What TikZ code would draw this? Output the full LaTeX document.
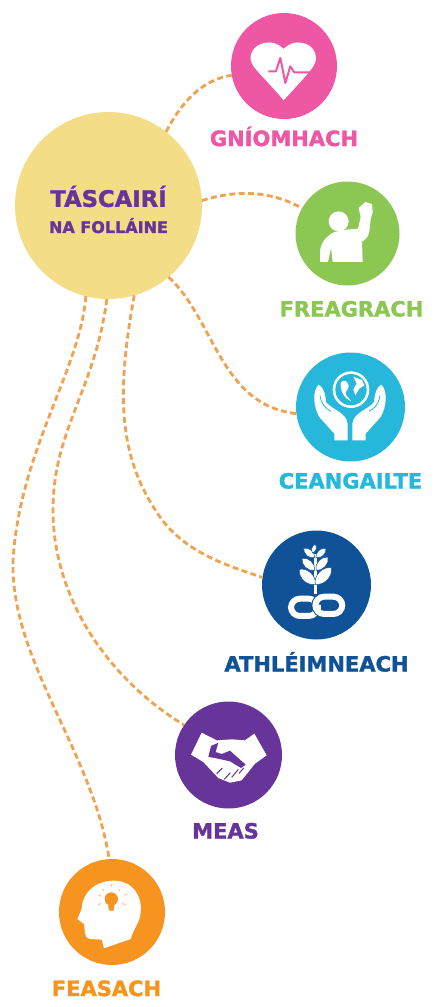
\documentclass[tikz,border=0pt]{standalone}
\usepackage{fontspec}
\setmainfont{DejaVu Sans}[BoldFeatures={FakeBold=1.6}]
\usetikzlibrary{positioning}
\definecolor{hubyellow}{HTML}{F3DD87}
\definecolor{linkorange}{HTML}{EFA24F}
\definecolor{gnpink}{HTML}{EE57A3}
\definecolor{frgreen}{HTML}{8CC753}
\definecolor{cecyan}{HTML}{27B7DB}
\definecolor{atnavy}{HTML}{0F5297}
\definecolor{mepurple}{HTML}{67359A}
\definecolor{feorange}{HTML}{F7941F}
\tikzset{iconzone/.style={shift={(#1)},x=.3333pt,y=-.3333pt}}
\tikzset{iconw/.style={fill=white,draw=none}}

\begin{document}
\begin{tikzpicture}[
  x=1pt, y=-1pt,
  disc/.style={circle, draw=none, inner sep=0pt, outer sep=0pt, minimum size=#1},
  hubc/.style={disc=187pt, fill=hubyellow, align=center, text=mepurple, font=\bfseries},
  lbl/.style={inner sep=0pt, outer sep=0pt, text height=16pt, text depth=0pt, font=\fontsize{21pt}{21pt}\selectfont\bfseries},
  linkc/.style={draw=linkorange, line width=2.8pt, dash pattern=on 6pt off 3.4pt},
]
  \useasboundingbox (0,0) rectangle (444,1007);

  \node[hubc] (hub) at (108.5,205.5) {\rule{0pt}{29pt}{\fontsize{22.7pt}{24pt}\selectfont TÁSCAIRÍ}\\[10pt]{\fontsize{16pt}{18pt}\selectfont NA FOLLÁINE}};
  \node[disc=106pt, fill=gnpink] (gn) at (284,66) {};
  \node[disc=104pt, fill=frgreen] (fr) at (347.5,233.5) {};
  \node[disc=109pt, fill=cecyan] (ce) at (350.5,407) {};
  \node[disc=109pt, fill=atnavy] (at) at (316.5,585) {};
  \node[disc=107pt, fill=mepurple] (me) at (228.5,755) {};
  \node[disc=106pt, fill=feorange] (fe) at (112,912) {};

  \node[lbl, text=gnpink, below=11pt of gn] (gnl) {GNÍOMHACH};
  \node[lbl, text=frgreen, below=15pt of fr, xshift=4pt] (frl) {FREAGRACH};
  \node[lbl, text=cecyan, below=11pt of ce] (cel) {CEANGAILTE};
  \node[lbl, text=atnavy, below=16pt of at] (atl) {ATHLÉIMNEACH};
  \node[lbl, text=mepurple, below=14pt of me, xshift=-3pt] (mel) {MEAS};
  \node[lbl, text=feorange, below=15pt of fe, xshift=-5.5pt] (fel) {FEASACH};

  % Dashed links
  \draw[linkc] (hub.52) .. controls (180,105) and (200,80) .. (gn.190);
  \draw[linkc] (hub.3) .. controls (235,190) and (270,190) .. (fr.151);
  \draw[linkc] (hub.-50) .. controls (215,320) and (220,405) .. (ce.187);
  \draw[linkc] (hub.-74) .. controls (115,400) and (120,460) .. (160,517) .. controls (185,552) and (225,565) .. (at.172);
  \draw[linkc] (hub.-91) .. controls (95,390) and (53,430) .. (53,510) .. controls (53,600) and (110,680) .. (me.146);
  \draw[linkc] (hub.-104) .. controls (80,370) and (20,450) .. (13,560) .. controls (10,660) and (92,750) .. (fe.93);

  % Heart
  \begin{scope}[iconzone={231,13}]
    \path[iconw] (158,108) .. controls (175,90) and (195,85) .. (215,90) .. controls (245,95) and (262,125) .. (252,150)
      .. controls (245,170) and (200,215) .. (158,262) .. controls (120,215) and (70,170) .. (62,150)
      .. controls (50,125) and (70,95) .. (100,90) .. controls (120,85) and (140,90) .. (158,108) -- cycle;
    \draw[gnpink, line width=2pt, line join=round] (112,175) -- (135,175) -- (148,135) -- (163,210) -- (178,160) -- (190,178) -- (240,178);
  \end{scope}

  % Raised hand
  \begin{scope}[iconzone={296,182}]
    \fill[white] (128,118) circle (30);
    \path[iconw] (72,240) -- (72,205) .. controls (78,175) and (95,160) .. (115,150) -- (150,143) -- (186,140) -- (194,105)
      -- (188,78) -- (208,60) -- (228,66) -- (230,90) -- (224,112) -- (220,150) .. controls (217,165) and (207,175) .. (198,178)
      -- (200,240) -- (110,240) -- (105,198) -- (96,240) -- cycle;
  \end{scope}

  % Globe in hands
  \begin{scope}[iconzone={296,352}]
    \fill[white] (165,113) circle (55);
    \fill[cecyan] (165,113) circle (47);
    \path[iconw] (135,90) .. controls (145,82) and (155,88) .. (158,100) .. controls (160,115) and (145,115) .. (150,128) -- (165,147)
      .. controls (145,140) and (130,115) .. (135,90) -- cycle;
    \path[iconw] (172,74) -- (198,84) -- (205,100) -- (190,110) -- (178,130) -- (172,112) -- (182,95) -- cycle;
    \foreach \flip/\off in {1/0,-1/324}
      \path[iconw, shift={(\off,0)}, xscale=\flip] (68,98) .. controls (82,105) and (88,125) .. (90,150) .. controls (110,175) and (150,180) .. (155,215)
        -- (155,265) -- (115,265) -- (115,245) -- (70,195) .. controls (50,160) and (50,115) .. (68,98) -- cycle;
    \foreach \flip/\off in {1/0,-1/324}
      \draw[cecyan, line width=.8pt, shift={(\off,0)}, xscale=\flip] (72,130) .. controls (75,155) and (88,170) .. (105,178);
  \end{scope}

  % Plant on a chain
  \begin{scope}[iconzone={262,531}]
    \draw[white, line width=3pt] (160,190) -- (160,70);
    \foreach \ax/\ay/\bx/\by in {160/160/112/115, 160/160/208/110, 158/118/120/82, 162/118/198/78, 158/80/125/52, 162/80/192/52, 152/66/160/40}
      \fill[white, draw=atnavy, line width=.5pt] (\ax,\ay) to[bend left=55] (\bx,\by) to[bend left=55] (\ax,\ay) -- cycle;
    \draw[white, line width=6pt, rounded corners=9pt] (87,203) rectangle (167,255);
    \draw[atnavy, line width=8pt, rounded corners=9pt] (160,197) rectangle (241,249);
    \draw[white, line width=6pt, rounded corners=9pt] (160,197) rectangle (241,249);
    \draw[white, line width=6pt] (167,222) -- (167,246);
  \end{scope}

  % Handshake
  \begin{scope}[iconzone={175,702}]
    \path[iconw] (80,92) -- (125,115) -- (170,112) -- (210,115) -- (238,95) -- (275,160) -- (240,185) -- (200,235) -- (165,242)
      -- (130,228) -- (85,180) -- (48,158) -- cycle;
    \fill[mepurple] (100,165) -- (108,132) -- (130,122) -- (122,150) -- (140,156) -- (165,146) -- (212,188) -- (198,198) -- (165,178) -- (120,168) -- cycle;
    \foreach \ax/\ay/\bx/\by in {125/215/142/198, 148/232/166/212, 170/226/190/202, 192/214/206/198}
      \draw[mepurple, line width=1pt] (\ax,\ay) -- (\bx,\by);
  \end{scope}

  % Head with bulb
  \begin{scope}[iconzone={59,859}]
    \path[iconw] (135,268) -- (128,242) -- (95,240) .. controls (82,238) and (78,230) .. (78,222) -- (75,195) -- (55,180) -- (68,150)
      .. controls (70,100) and (110,65) .. (165,65) .. controls (220,65) and (250,110) .. (245,160) .. controls (243,190) and (225,205) .. (215,240) -- cycle;
    \fill[feorange] (157,120) circle (20);
    \fill[feorange] (147,132) -- (167,132) -- (164,155) -- (150,155) -- cycle;
    \foreach \ax/\ay/\bx/\by in {118/108/128/112, 130/90/135/96, 157/75/157/83, 183/90/178/97, 195/108/205/106, 118/137/126/133, 190/133/200/138}
      \draw[feorange!50, line width=1pt] (\ax,\ay) -- (\bx,\by);
  \end{scope}
\end{tikzpicture}
\end{document}
